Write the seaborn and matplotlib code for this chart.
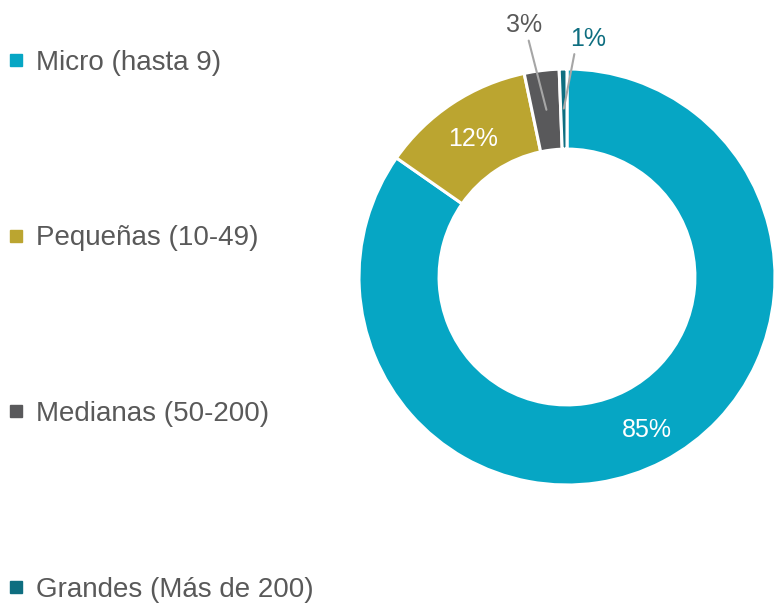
import matplotlib
matplotlib.use("Agg")
import matplotlib.pyplot as plt
from matplotlib.lines import Line2D
import seaborn as sns
import numpy as np

# datos del gráfico
categorias = ["Micro (hasta 9)", "Pequeñas (10-49)", "Medianas (50-200)", "Grandes (Más de 200)"]
porcentajes = [84.7, 12.0, 2.7, 0.6]
etiquetas = ["85%", "12%", "3%", "1%"]
colores = ["#06A6C4", "#BBA530", "#59595B", "#0E6E80"]

sns.set_theme(style="white")
plt.rcParams["font.family"] = ["Liberation Sans Narrow", "Liberation Sans", "DejaVu Sans"]
gris = "#595959"

fig = plt.figure(figsize=(7.74, 6.04), dpi=100)

# eje del anillo: centro (567, 277) px, radio 208 px
cx, cy, r = 567, 277, 208
ax = fig.add_axes([(cx - r) / 774, (604 - cy - r) / 604, 2 * r / 774, 2 * r / 604])
wedges, _ = ax.pie(porcentajes, colors=sns.color_palette(colores), startangle=90,
                   counterclock=False, radius=1,
                   wedgeprops=dict(width=0.385, edgecolor="white", linewidth=2.2))
ax.set_xlim(-1, 1)
ax.set_ylim(-1, 1)
ax.set_aspect("equal")
ax.axis("off")

# etiquetas de porcentaje dentro del anillo
for i, w in enumerate(wedges[:2]):
    ang = np.deg2rad((w.theta1 + w.theta2) / 2)
    rr = 0.83 if i == 0 else 0.82
    dy = 0.0 if i == 0 else -0.02
    ax.text(rr * np.cos(ang), rr * np.sin(ang) + dy, etiquetas[i], color="white",
            ha="center", va="center", fontsize=18)

# etiquetas externas con líneas guía
ang3 = np.deg2rad((wedges[2].theta1 + wedges[2].theta2) / 2)
ax.annotate(etiquetas[2], xy=(0.81 * np.cos(ang3), 0.81 * np.sin(ang3)), xytext=(-0.207, 1.21),
            ha="center", va="center", fontsize=18, color=gris, annotation_clip=False,
            arrowprops=dict(arrowstyle="-", color="#A6A6A6", lw=1.5, relpos=(0.6, 0.05),
                            shrinkA=0, shrinkB=0))
ang4 = np.deg2rad((wedges[3].theta1 + wedges[3].theta2) / 2)
ax.annotate(etiquetas[3], xy=(0.81 * np.cos(ang4), 0.81 * np.sin(ang4)), xytext=(0.10, 1.145),
            ha="center", va="center", fontsize=18, color=colores[3], annotation_clip=False,
            arrowprops=dict(arrowstyle="-", color="#A6A6A6", lw=1.5, relpos=(0.15, 0.05),
                            shrinkA=0, shrinkB=0))

# leyenda a la izquierda
handles = [Line2D([0], [0], marker="s", linestyle="none", markersize=9,
                  markerfacecolor=c, markeredgecolor=c) for c in colores]
fig.legend(handles, categorias, loc="upper left", bbox_to_anchor=(0.01, 0.918),
           frameon=False, fontsize=20, labelcolor=gris, handlelength=0.6,
           handletextpad=0.4, labelspacing=5.39, borderaxespad=0, borderpad=0)

fig.savefig("out.png", dpi=100)
